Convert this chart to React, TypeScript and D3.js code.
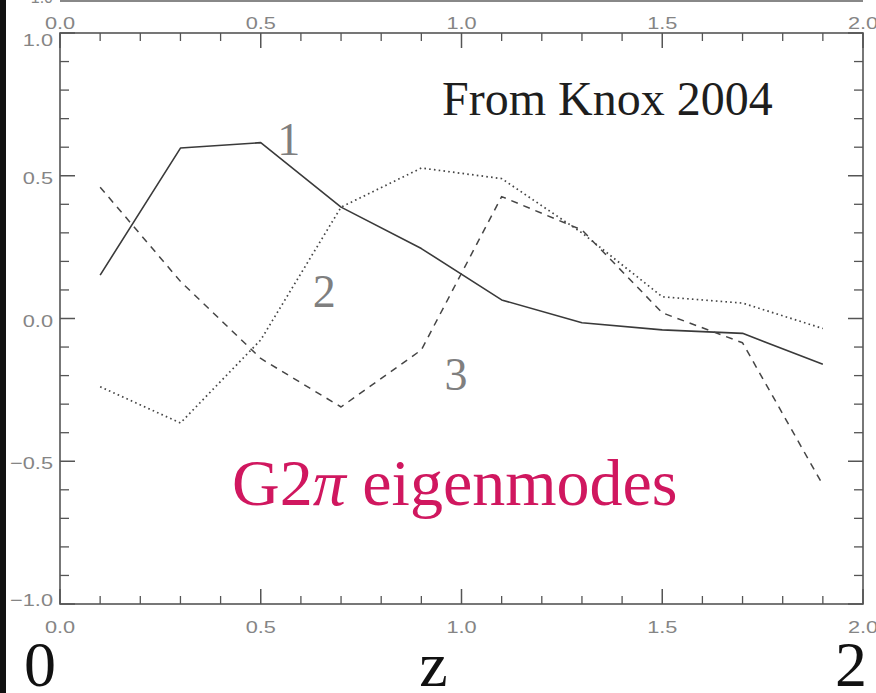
import React from "react";
import * as d3 from "d3";

// Redshift bin centres and the three leading eigenmodes
const zValues = [0.1, 0.3, 0.5, 0.7, 0.9, 1.1, 1.3, 1.5, 1.7, 1.9];
const mode1 = [0.152, 0.597, 0.616, 0.39, 0.245, 0.065, -0.015, -0.04, -0.052, -0.16];
const mode2 = [-0.239, -0.366, -0.075, 0.39, 0.527, 0.49, 0.3, 0.076, 0.054, -0.035];
const mode3 = [0.46, 0.13, -0.14, -0.31, -0.11, 0.427, 0.31, 0.02, -0.085, -0.583];
const modeNames = ["1", "2", "3"];

const xMajorTicks = [0, 0.5, 1.0, 1.5, 2.0];
const yMajorTicks = [-1.0, -0.5, 0.0, 0.5, 1.0];

const W = 876;
const H = 693;
const left = 60;
const right = 863;
const top = 33;
const bottom = 604;

const AXIS = "#555";
const TICKTXT = "#858585";
const SANS = "'Liberation Sans', Arial, sans-serif";
const SERIF = "'Liberation Serif', 'Times New Roman', serif";

export default function App() {
  const x = d3.scaleLinear().domain([0, 2]).range([left, right]);
  const y = d3.scaleLinear().domain([-1, 1]).range([bottom, top]);
  const fmt = d3.format(".1f");

  const line = d3
    .line<number>()
    .x((_, i) => x(zValues[i]))
    .y((d) => y(d));

  const isMajor = (v: number) => Math.abs(v / 0.5 - Math.round(v / 0.5)) < 1e-6;
  const xMinor = d3.range(0, 2.0001, 0.1).filter((v) => !isMajor(v));
  const yMinor = d3.range(-1, 1.0001, 0.1).filter((v) => !isMajor(v));

  const series = [
    { values: mode1, dash: undefined, color: "#3a3a3a", width: 1.6 },
    { values: mode2, dash: "1.6,3.2", color: "#454545", width: 1.7 },
    { values: mode3, dash: "7,6", color: "#454545", width: 1.5 },
  ];

  // label anchors for the mode numbers, in data units
  const nameAt = [
    [0.57, 0.573],
    [0.658, 0.04],
    [0.986, -0.25],
  ];

  const stretched = (tx: number, ty: number, txt: string, anchor: string, key: string) => (
    <text
      key={key}
      transform={`translate(${tx},${ty}) scale(1.28,1)`}
      textAnchor={anchor}
      fontFamily={SANS}
      fontSize={17}
      fill={TICKTXT}
    >
      {txt}
    </text>
  );

  const yLabelCentre = (v: number) => Math.max(top + 7, Math.min(bottom - 4, y(v) + 2));

  return (
    <svg
      width={W}
      height={H}
      viewBox={`0 0 ${W} ${H}`}
      style={{ position: "absolute", left: 0, top: 0, background: "#fff" }}
    >
      <rect x={0} y={0} width={W} height={H} fill="#fff" />
      <rect x={0} y={0} width={6} height={H} fill="#111" />

      {/* edge of the panel above */}
      <line x1={left} x2={right} y1={1} y2={1} stroke="#888" strokeWidth={2} />
      <text x={53} y={3} textAnchor="end" fontFamily={SANS} fontSize={16} fill={TICKTXT}>
        {fmt(-1)}
      </text>

      {/* frame */}
      <rect x={left} y={top} width={right - left} height={bottom - top} fill="none" stroke={AXIS} strokeWidth={1.6} />

      {/* x ticks, top and bottom, pointing inward */}
      {xMajorTicks.map((v) => (
        <g key={`xM${v}`} stroke={AXIS} strokeWidth={1.5}>
          <line x1={x(v)} x2={x(v)} y1={top} y2={top + 15} />
          <line x1={x(v)} x2={x(v)} y1={bottom} y2={bottom - 15} />
        </g>
      ))}
      {xMinor.map((v) => (
        <g key={`xm${v}`} stroke={AXIS} strokeWidth={1.3}>
          <line x1={x(v)} x2={x(v)} y1={top} y2={top + 8} />
          <line x1={x(v)} x2={x(v)} y1={bottom} y2={bottom - 8} />
        </g>
      ))}

      {/* y ticks, left and right */}
      {yMajorTicks.map((v) => (
        <g key={`yM${v}`} stroke={AXIS} strokeWidth={1.5}>
          <line x1={left} x2={left + 15} y1={y(v)} y2={y(v)} />
          <line x1={right} x2={right - 15} y1={y(v)} y2={y(v)} />
        </g>
      ))}
      {yMinor.map((v) => (
        <g key={`ym${v}`} stroke={AXIS} strokeWidth={1.3}>
          <line x1={left} x2={left + 9} y1={y(v)} y2={y(v)} />
          <line x1={right} x2={right - 9} y1={y(v)} y2={y(v)} />
        </g>
      ))}

      {/* tick labels */}
      {xMajorTicks.map((v) => stretched(x(v), 29, fmt(v), "middle", `xt${v}`))}
      {xMajorTicks.map((v) => stretched(x(v), 633, fmt(v), "middle", `xb${v}`))}
      {yMajorTicks.map((v) => stretched(53, yLabelCentre(v) + 6, fmt(v), "end", `yl${v}`))}

      {/* eigenmode curves */}
      {series.map((s, i) => (
        <path
          key={`s${i}`}
          d={line(s.values) || ""}
          fill="none"
          stroke={s.color}
          strokeWidth={s.width}
          strokeDasharray={s.dash}
          strokeLinejoin="round"
        />
      ))}

      {modeNames.map((n, i) => (
        <text
          key={`n${n}`}
          x={x(nameAt[i][0])}
          y={y(nameAt[i][1])}
          textAnchor="middle"
          fontFamily={SERIF}
          fontSize={46}
          fill="#7f7f7f"
        >
          {n}
        </text>
      ))}

      <text x={442} y={115} fontFamily={SERIF} fontSize={48} fill="#1e1e1e">
        From Knox 2004
      </text>

      <text x={232} y={505} fontFamily={SERIF} fontSize={66} fill="#d0175f">
        G2<tspan fontStyle="italic">π</tspan> eigenmodes
      </text>

      {/* redshift axis annotation */}
      <text x={x(0) - 20} y={686} textAnchor="middle" fontFamily={SERIF} fontSize={64} fill="#111">
        0
      </text>
      <text x={x(0.93)} y={686} textAnchor="middle" fontFamily={SERIF} fontSize={64} fill="#111">
        z
      </text>
      <text x={x(1.97)} y={686} textAnchor="middle" fontFamily={SERIF} fontSize={64} fill="#111">
        2
      </text>
    </svg>
  );
}
